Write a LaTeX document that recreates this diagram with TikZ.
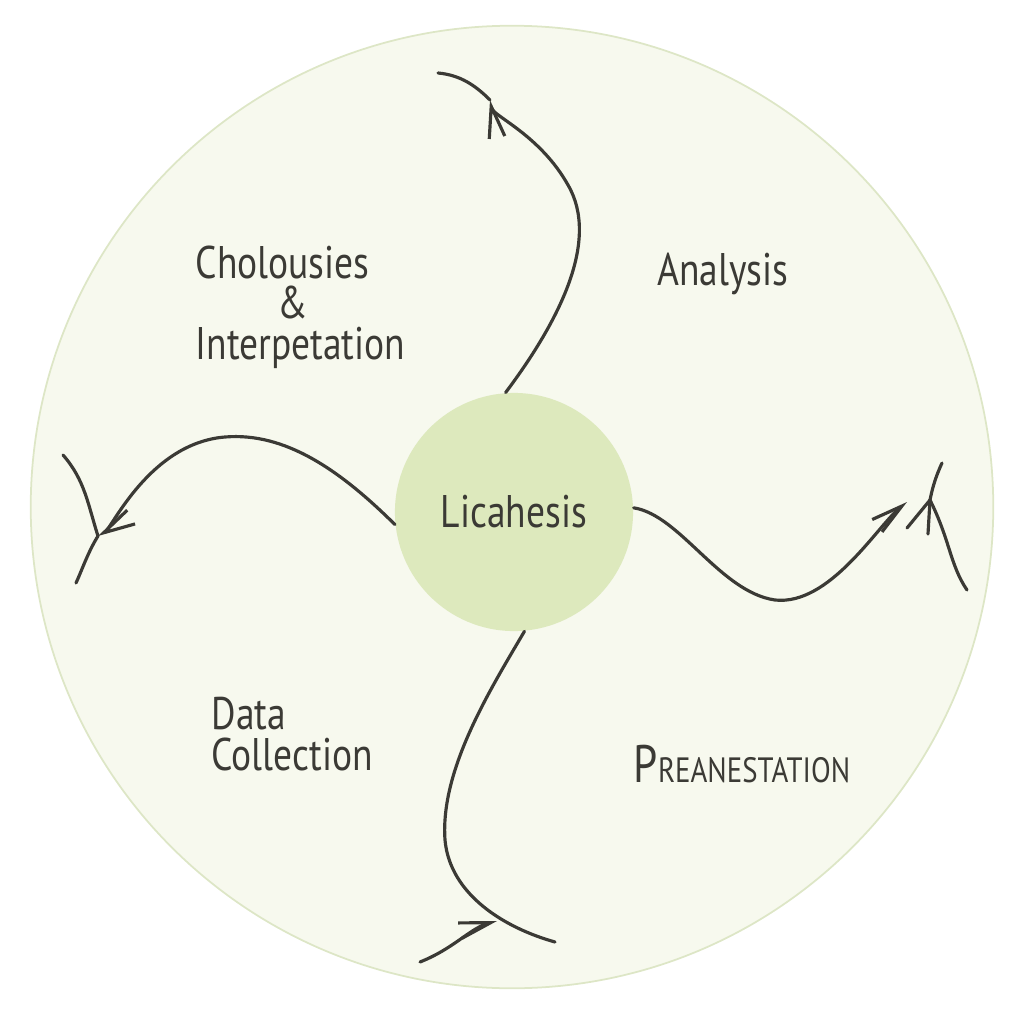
\documentclass[tikz,border=0pt]{standalone}
\usepackage{fontspec}
\usepackage{tikz}
\usepackage{xcolor}
\usetikzlibrary{arrows.meta}
\setmainfont{PT Sans}[FakeStretch=0.82]

\definecolor{ink}{HTML}{3B3A35}
\definecolor{ringfill}{HTML}{F7F9EE}
\definecolor{ringline}{HTML}{DDE6C6}
\definecolor{hubfill}{HTML}{DDE9BD}

\begin{document}
\begin{tikzpicture}[x=0.01cm, y=-0.01cm,
      every node/.style = {text=ink, font=\fontsize{13}{11.5}\selectfont},
      ring/.style = {circle, fill=ringfill, draw=ringline, line width=0.5pt, minimum size=9.62cm},
      hub/.style = {circle, fill=hubfill, minimum size=2.38cm},
      stage/.style = {align=center, inner sep=0pt},
      sketch/.style = {draw=ink, line width=0.9pt, line cap=round, line join=round},
      barb/.style = {-{Straight Barb[length=9pt, width=4.5pt]}}
      ]
      \useasboundingbox (0,0) rectangle (1024,1024);
      \node[ring] (ring) at (512,507) {};
      \node[hub] (hub) at (514,512) {Licahesis};

      \node[stage, align=left, anchor=west] (interp) at (195,307) {Cholousies\\\hspace{1.8em}\&\\Interpetation};
      \node[stage] (analysis) at (723,274) {Analysis};
      \node[stage, align=left, anchor=west] (data) at (211,734) {Data\\Collection};
      \node[stage] (present) at (742,764)
            {{\fontsize{15}{15}\selectfont P}{\fontsize{10}{10}\selectfont REANESTATION}};

      % arrow tips and loose ends
      \coordinate (tipA) at (490,100);
      \coordinate (tailA) at (438,73);
      \coordinate (tipB) at (98,536);
      \coordinate (tailB1) at (63,455);
      \coordinate (tailB2) at (76,583);
      \coordinate (tipC) at (907,502);
      \coordinate (forkC) at (930,500);
      \coordinate (tailC1) at (942,463);
      \coordinate (tailC2) at (967,590);
      \coordinate (tailC3) at (907,528);
      \coordinate (tailC4) at (928,534);
      \coordinate (tipD) at (497,921);
      \coordinate (tailD1) at (555,942);
      \coordinate (tailD2) at (420,962);

      \draw[sketch, barb] (hub.94) .. controls (560,320) and (600,240) .. (568,185)
            .. controls (540,135) and (493,116) .. (tipA);
      \draw[sketch] (tipA) .. controls (475,85) and (460,75) .. (tailA);

      \draw[sketch, barb] (hub.186) .. controls (340,470) and (285,432) .. (225,437)
            .. controls (150,443) and (112,528) .. (tipB);
      \draw[sketch] (tailB1) .. controls (85,480) and (88,505) .. (tipB)
            .. controls (88,552) and (82,570) .. (tailB2);

      \draw[sketch, barb] (hub.2) .. controls (680,515) and (720,592) .. (775,600)
            .. controls (830,606) and (878,525) .. (tipC);
      \draw[sketch] (tailC1) .. controls (935,478) and (932,490) .. (forkC)
            .. controls (950,540) and (950,565) .. (tailC2);
      \draw[sketch] (forkC) -- (tailC3);
      \draw[sketch] (forkC) -- (tailC4);

      \draw[sketch] (hub.275) .. controls (490,690) and (440,770) .. (445,840)
            .. controls (450,895) and (505,928) .. (tailD1);
      \draw[sketch, barb] (tailD2) .. controls (455,948) and (470,928) .. (tipD);
\end{tikzpicture}
\end{document}
